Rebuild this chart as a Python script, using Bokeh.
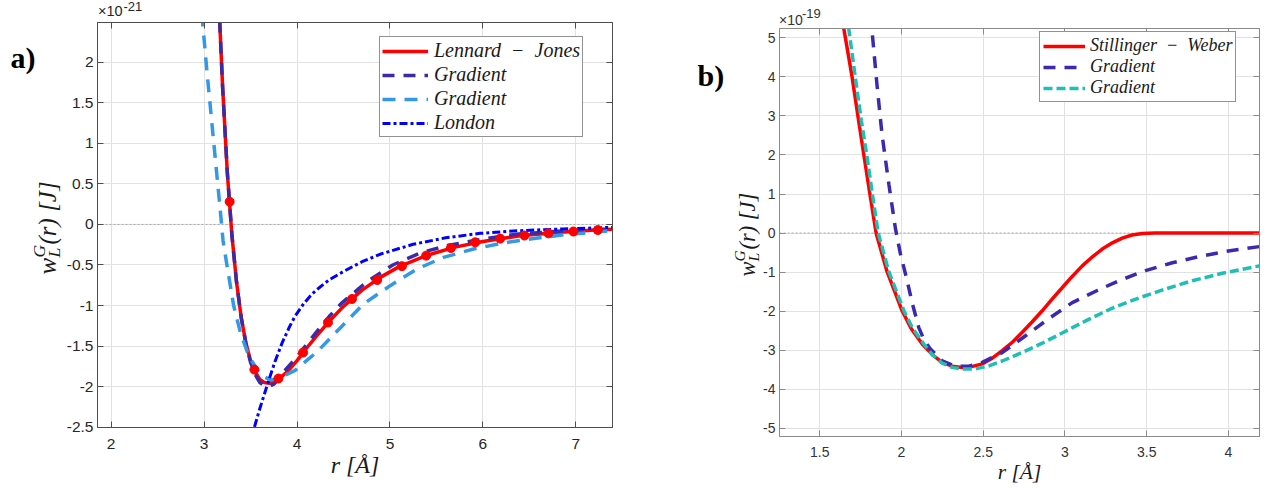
import math
from bokeh.plotting import figure
from bokeh.models import Range1d, FixedTicker, LinearAxis, Legend, LegendItem, Label, Span, CustomJSTickFormatter, Div
from bokeh.layouts import row, column
from bokeh.embed import file_html
from bokeh.resources import INLINE

# ---------------- data : panel a) ----------------
lj_r = [3.15, 3.17, 3.20, 3.25, 3.30, 3.35, 3.40, 3.45, 3.50, 3.55, 3.60, 3.65, 3.70, 3.75, 3.80, 3.90,
        4.00, 4.10, 4.20, 4.35, 4.50, 4.70, 4.90, 5.10, 5.40, 5.70, 6.00, 6.40, 6.80, 7.20, 7.40]
lj_v = [3.03, 2.45, 1.68, 0.64, -0.14, -0.72, -1.15, -1.46, -1.68, -1.82, -1.91, -1.95, -1.96, -1.94, -1.91, -1.81,
        -1.68, -1.53, -1.39, -1.19, -1.01, -0.81, -0.65, -0.52, -0.38, -0.28, -0.21, -0.14, -0.10, -0.07, -0.06]
lj_mr = [3.275, 3.541, 3.80, 4.065, 4.333, 4.591, 4.863, 5.129, 5.39, 5.656, 5.917, 6.186, 6.447, 6.705, 6.974, 7.237]
lj_mv = [0.28, -1.79, -1.90, -1.58, -1.21, -0.92, -0.685, -0.515, -0.385, -0.29, -0.221, -0.175, -0.137, -0.11, -0.087, -0.069]

gd_r = [3.15, 3.17, 3.20, 3.25, 3.30, 3.35, 3.40, 3.45, 3.50, 3.55, 3.60, 3.65, 3.70, 3.75, 3.80, 3.87,
        4.00, 4.20, 4.35, 4.49, 4.76, 5.03, 5.33, 5.62, 6.00, 6.36, 6.80, 7.40]
gd_v = [3.03, 2.45, 1.68, 0.64, -0.14, -0.72, -1.15, -1.47, -1.70, -1.85, -1.95, -1.99, -2.00, -1.97, -1.91, -1.80,
        -1.63, -1.34, -1.13, -0.96, -0.70, -0.50, -0.35, -0.26, -0.18, -0.12, -0.085, -0.055]

gl_r = [2.975, 2.985, 3.032, 3.078, 3.121, 3.172, 3.204, 3.247, 3.318, 3.39, 3.48, 3.587, 3.65, 3.72, 3.80,
        3.98, 4.23, 4.47, 4.716, 5.003, 5.29, 5.576, 5.90, 6.22, 6.51, 6.87, 7.40]
gl_v = [2.60, 2.48, 1.87, 1.32, 0.805, 0.20, -0.20, -0.51, -1.00, -1.33, -1.62, -1.82, -1.88, -1.92, -1.90,
        -1.80, -1.555, -1.27, -0.98, -0.755, -0.55, -0.406, -0.303, -0.229, -0.18, -0.127, -0.076]

lo_r = [3.50, 3.544, 3.60, 3.677, 3.76, 3.84, 3.92, 3.98, 4.07, 4.16, 4.26, 4.35, 4.50, 4.70, 4.90,
        5.25, 5.60, 5.97, 6.37, 6.87, 7.40]
lo_v = [-2.70, -2.49, -2.27, -1.99, -1.70, -1.46, -1.26, -1.13, -0.98, -0.86, -0.76, -0.68, -0.58, -0.46, -0.365,
        -0.245, -0.165, -0.11, -0.078, -0.055, -0.036]

a_xticks = [2, 3, 4, 5, 6, 7]
a_yticks = [-2.5, -2, -1.5, -1, -0.5, 0, 0.5, 1, 1.5, 2]
a_labels = ["Lennard  \u2212  Jones", "Gradient", "Gradient", "London"]
a_expo = ["\u00d710", "-21"]

# ---------------- data : panel b) ----------------
sw_r = [1.63, 1.648, 1.698, 1.733, 1.77, 1.807, 1.845, 1.912, 2.004, 2.06, 2.127, 2.19, 2.249, 2.31, 2.371,
        2.43, 2.494, 2.55, 2.616, 2.68, 2.739, 2.80, 2.861, 2.92, 2.983, 3.04, 3.106, 3.17, 3.228, 3.29,
        3.35, 3.41, 3.473, 3.55, 4.20]
sw_v = [5.66, 5.22, 4.00, 3.02, 2.00, 1.00, 0.00, -0.99, -1.99, -2.45, -2.84, -3.12, -3.31, -3.41, -3.44,
        -3.42, -3.35, -3.22, -3.01, -2.79, -2.54, -2.27, -1.99, -1.70, -1.40, -1.13, -0.84, -0.60, -0.41, -0.25,
        -0.13, -0.05, -0.01, 0.00, 0.00]

bd_r = [1.81, 1.82, 1.85, 1.881, 1.923, 1.963, 1.994, 2.035, 2.065, 2.106, 2.14, 2.177, 2.249, 2.33, 2.412,
        2.494, 2.616, 2.759, 2.898, 3.045, 3.198, 3.33, 3.493, 3.657, 3.82, 3.983, 4.20]
bd_v = [5.60, 5.18, 3.81, 2.53, 1.25, 0.12, -0.54, -1.22, -1.78, -2.42, -2.75, -2.97, -3.27, -3.41, -3.41,
        -3.31, -3.06, -2.63, -2.20, -1.78, -1.47, -1.22, -0.96, -0.76, -0.60, -0.47, -0.34]

bc_r = [1.665, 1.678, 1.718, 1.755, 1.79, 1.831, 1.858, 1.923, 2.015, 2.07, 2.137, 2.19, 2.249, 2.31, 2.371,
        2.453, 2.535, 2.62, 2.698, 2.78, 2.861, 2.983, 3.126, 3.29, 3.453, 3.616, 3.779, 3.963, 4.20]
bc_v = [5.60, 5.22, 3.98, 2.87, 1.94, 0.74, 0.00, -0.99, -1.99, -2.45, -2.84, -3.12, -3.33, -3.44, -3.48,
        -3.48, -3.40, -3.27, -3.13, -2.98, -2.82, -2.56, -2.25, -1.92, -1.66, -1.43, -1.22, -1.03, -0.83]

b_xticks = [1.5, 2, 2.5, 3, 3.5, 4]
b_yticks = [-5, -4, -3, -2, -1, 0, 1, 2, 3, 4, 5]
b_labels = ["Stillinger  \u2212  Weber", "Gradient", "Gradient"]
b_expo = ["\u00d710", "-19"]

SERIF = "Liberation Serif"
SANS = "Liberation Sans"
TXT = "#1a1a1a"


def make_panel(fw, fh, xr, yr, mbl, mbr, mbt, mbb, xticks, yticks, axis_color, tick_color, tick_fs,
               xstand, ystand, xlabel_fs, xlabel_stand):
    p = figure(output_backend="svg", toolbar_location=None, frame_width=fw, frame_height=fh,
               x_range=Range1d(*xr), y_range=Range1d(*yr),
               min_border_left=mbl, min_border_right=mbr, min_border_top=mbt, min_border_bottom=mbb,
               background_fill_color="white", border_fill_color="white")
    p.outline_line_color = axis_color
    p.outline_line_width = 1
    xb = p.xaxis[0]
    yl = p.yaxis[0]
    for ax, ticks in ((xb, xticks), (yl, yticks)):
        ax.ticker = FixedTicker(ticks=ticks)
        ax.formatter = CustomJSTickFormatter(code="return tick.toString();")
        ax.axis_line_color = axis_color
        ax.major_tick_line_color = axis_color
        ax.major_tick_in = 6
        ax.major_tick_out = 0
        ax.minor_tick_line_color = None
        ax.major_label_text_font = SANS
        ax.major_label_text_font_size = tick_fs
        ax.major_label_text_color = tick_color
    yl.major_label_standoff = ystand
    xb.major_label_standoff = xstand
    xb.axis_label = "r [\u00c5]"
    xb.axis_label_text_font = SERIF
    xb.axis_label_text_font_style = "italic"
    xb.axis_label_text_font_size = xlabel_fs
    xb.axis_label_text_color = TXT
    xb.axis_label_standoff = xlabel_stand
    for loc, ticks in (("above", xticks), ("right", yticks)):
        ax = LinearAxis(ticker=FixedTicker(ticks=ticks), major_label_text_font_size="0px",
                        major_label_standoff=0, major_tick_in=6, major_tick_out=0,
                        minor_tick_line_color=None, axis_line_color=axis_color,
                        major_tick_line_color=axis_color)
        ax.formatter = CustomJSTickFormatter(code="return '';")
        p.add_layout(ax, loc)
    p.xgrid.grid_line_color = "#e2e2e2"
    p.ygrid.grid_line_color = "#e2e2e2"
    p.add_layout(Span(location=0, dimension="width", line_color="#a8a8a8", line_width=1,
                      line_dash="2 2", level="underlay"))
    return p


def deco(w, h):
    d = figure(output_backend="svg", toolbar_location=None, width=w, height=h,
               x_range=Range1d(0, w), y_range=Range1d(h, 0), x_axis_type=None, y_axis_type=None,
               min_border=0, background_fill_color="white", border_fill_color="white")
    d.outline_line_color = None
    d.grid.visible = False
    return d


def txt(d, x, y, text, size, font=SERIF, style="italic", color=TXT, angle=0.0):
    d.add_layout(Label(x=x, y=y, text=text, text_font=font, text_font_size=size,
                       text_font_style=style, text_color=color, angle=angle,
                       text_align="left", text_baseline="alphabetic"))


def expo_div(w, h, parts, color, x1, top1, fs1, x2, top2, fs2):
    span = ("<span style=\"position:absolute;left:{}px;top:{}px;font-size:{}px;line-height:1;"
            "white-space:nowrap;\">{}</span>")
    html = ("<div style=\"position:relative;width:{}px;height:{}px;font-family:'Liberation Sans';"
            "color:{};\">".format(w, h, color)
            + span.format(x1, top1, fs1, parts[0]) + span.format(x2, top2, fs2, parts[1]) + "</div>")
    return Div(text=html, width=w, height=h, margin=0)


# ---------------- panel a ----------------
pa = make_panel(515, 405, (1.853, 7.395), (-2.504, 2.49), 35, 40, 0, 60,
                a_xticks, a_yticks, "#4d4d4d", "#262626", "15.5px", 11, 4, "24px", 0)
r1 = pa.line(lj_r, lj_v, line_color="#ff0000", line_width=3.5)
r2 = pa.line(gd_r, gd_v, line_color="#3b2ca6", line_width=3.5, line_dash="12 9")
r3 = pa.line(gl_r, gl_v, line_color="#3399e6", line_width=3.5, line_dash="13 9")
r4 = pa.line(lo_r, lo_v, line_color="#0000ff", line_width=3, line_dash="8 3 3 3")
pa.scatter(lj_mr, lj_mv, marker="circle", size=9, color="#ff0000")
leg_a = Legend(items=[LegendItem(label=a_labels[0], renderers=[r1]),
                      LegendItem(label=a_labels[1], renderers=[r2]),
                      LegendItem(label=a_labels[2], renderers=[r3]),
                      LegendItem(label=a_labels[3], renderers=[r4])],
               location=(282, 290), glyph_width=46, glyph_height=20, label_standoff=6,
               padding=2, spacing=1, margin=0,
               label_text_font=SERIF, label_text_font_style="italic", label_text_font_size="20px",
               label_text_color=TXT, border_line_color="#262626", border_line_width=1,
               background_fill_color="white", background_fill_alpha=1.0)
pa.add_layout(leg_a)
ta = expo_div(590, 22, a_expo, "#262626", 36, 4.4, 14.5, 61.5, 0, 13)

da = deco(62, 487)                      # left strip: panel letter + y label
txt(da, 10, 56.5, "a)", "30px", style="bold", color="#000000")
txt(da, 47, 274, "w", "25px", angle=math.pi / 2)
txt(da, 38, 257, "G", "17.5px", angle=math.pi / 2)
txt(da, 53, 257, "L", "17.5px", angle=math.pi / 2)
txt(da, 47, 244, "(r)  [J]", "25px", angle=math.pi / 2)

# ---------------- panel b ----------------
pb = make_panel(480, 408, (1.254, 4.19), (-5.21, 5.24), 18, 5, 0, 50,
                b_xticks, b_yticks, "#8a8a8a", "#333333", "14px", 10, 4, "21.5px", 0)
s1 = pb.line(sw_r, sw_v, line_color="#ff0000", line_width=3.5)
s2 = pb.line(bd_r, bd_v, line_color="#3b2ab0", line_width=3.5, line_dash="12 9")
s3 = pb.line(bc_r, bc_v, line_color="#1fbfb6", line_width=3.5, line_dash="9 4")
leg_b = Legend(items=[LegendItem(label=b_labels[0], renderers=[s1]),
                      LegendItem(label=b_labels[1], renderers=[s2]),
                      LegendItem(label=b_labels[2], renderers=[s3])],
               location=(260, 334), glyph_width=42, glyph_height=18, label_standoff=5,
               padding=3, spacing=0, margin=0,
               label_text_font=SERIF, label_text_font_style="italic", label_text_font_size="18px",
               label_text_color=TXT, border_line_color="#262626", border_line_width=1,
               background_fill_color="white", background_fill_alpha=1.0)
pb.add_layout(leg_b)
tb = expo_div(503, 28, b_expo, "#333333", 19, 13.1, 14, 42, 7.3, 13)

db = deco(108, 486)                     # middle strip: panel letter + y label
txt(db, 45, 75, "b)", "30px", style="bold", color="#000000")
txt(db, 95, 276, "w", "22.5px", angle=math.pi / 2)
txt(db, 87, 261, "G", "15.5px", angle=math.pi / 2)
txt(db, 100.5, 261, "L", "15.5px", angle=math.pi / 2)
txt(db, 95, 249, "(r)  [J]", "22.5px", angle=math.pi / 2)

layout = row(da, column(ta, pa), db, column(tb, pb))
open("out.html", "w").write(file_html(layout, INLINE))
